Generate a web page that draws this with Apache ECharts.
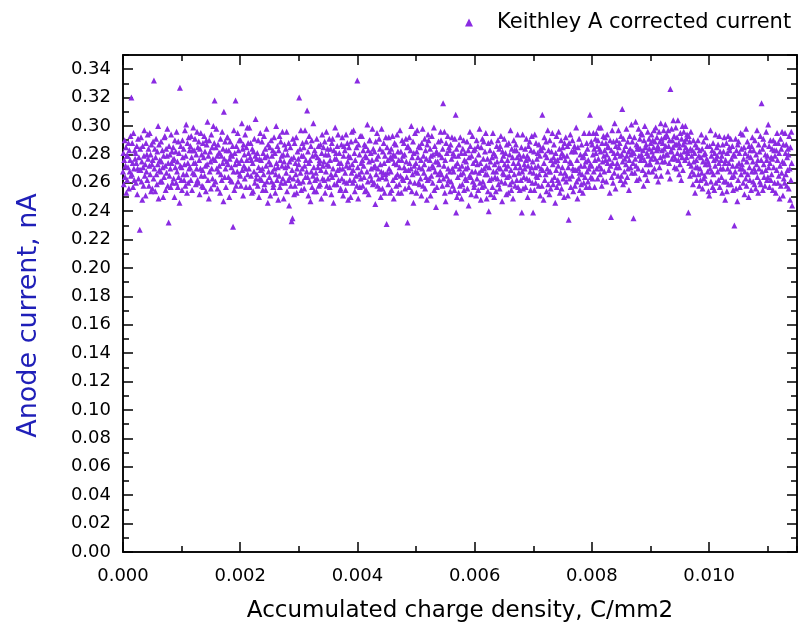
<!DOCTYPE html>
<html>
<head>
<meta charset="utf-8">
<title>Anode current vs accumulated charge</title>
<script src="https://cdn.jsdelivr.net/npm/echarts@6/dist/echarts.min.js"></script>
<style>
  html, body { margin: 0; padding: 0; background: #fff; }
  #chart { width: 800px; height: 633px; }
</style>
</head>
<body>
<div id="chart"></div>
<script>
// Keithley A corrected anode current (nA), in consecutive blocks of 160 samples
const current0 = [
  0.268,0.281,0.259,0.276,0.290,0.264,0.272,0.285,0.253,0.279,
  0.262,0.279,0.271,0.288,0.256,0.283,0.268,0.276,0.293,0.265,
  0.320,0.266,0.288,0.274,0.257,0.295,0.270,0.262,0.283,0.277,
  0.281,0.260,0.274,0.286,0.252,0.270,0.291,0.263,0.278,0.269,
  0.227,0.284,0.269,0.292,0.261,0.275,0.248,0.286,0.271,0.258,
  0.279,0.297,0.265,0.273,0.251,0.288,0.268,0.280,0.262,0.294,
  0.277,0.284,0.258,0.272,0.295,0.266,0.280,0.254,0.287,0.273,
  0.256,0.276,0.289,0.263,0.332,0.270,0.284,0.254,0.278,0.291,
  0.266,0.259,0.282,0.273,0.300,0.249,0.287,0.269,0.276,0.261,
  0.268,0.289,0.275,0.261,0.283,0.271,0.250,0.279,0.264,0.292,
  0.293,0.272,0.255,0.284,0.267,0.279,0.298,0.258,0.274,0.232,
  0.286,0.265,0.280,0.270,0.257,0.294,0.274,0.282,0.260,0.276,
  0.285,0.263,0.277,0.250,0.290,0.271,0.282,0.260,0.296,0.268,
  0.275,0.257,0.289,0.264,0.281,0.246,0.327,0.272,0.286,0.262,
  0.271,0.255,0.290,0.278,0.266,0.284,0.262,0.273,0.297,0.258,
  0.279,0.301,0.266,0.253,0.288,0.274,0.260,0.292,0.270,0.283
];
const current1 = [
  0.271,0.286,0.262,0.293,0.278,0.255,0.283,0.267,0.299,0.274,
  0.283,0.266,0.291,0.274,0.259,0.280,0.270,0.296,0.262,0.285,
  0.260,0.289,0.276,0.252,0.284,0.270,0.295,0.265,0.280,0.258,
  0.269,0.288,0.257,0.278,0.293,0.265,0.282,0.272,0.254,0.290,
  0.287,0.273,0.303,0.262,0.279,0.249,0.290,0.268,0.282,0.275,
  0.256,0.294,0.270,0.285,0.263,0.277,0.300,0.259,0.288,0.318,
  0.276,0.261,0.285,0.298,0.270,0.279,0.256,0.287,0.268,0.281,
  0.272,0.281,0.253,0.291,0.266,0.279,0.262,0.296,0.274,0.284,
  0.247,0.310,0.277,0.264,0.289,0.270,0.257,0.283,0.275,0.292,
  0.292,0.273,0.264,0.283,0.250,0.277,0.289,0.262,0.280,0.271,
  0.261,0.279,0.286,0.229,0.268,0.297,0.255,0.281,0.273,0.318,
  0.258,0.286,0.276,0.268,0.295,0.261,0.283,0.274,0.290,0.266,
  0.265,0.290,0.258,0.276,0.302,0.269,0.284,0.251,0.287,0.272,
  0.280,0.263,0.294,0.270,0.257,0.285,0.276,0.299,0.266,0.288,
  0.281,0.270,0.299,0.257,0.278,0.288,0.265,0.276,0.253,0.284,
  0.274,0.254,0.282,0.268,0.291,0.260,0.279,0.305,0.263,0.277
];
const current2 = [
  0.266,0.281,0.258,0.290,0.271,0.250,0.277,0.263,0.295,0.269,
  0.276,0.262,0.289,0.270,0.255,0.281,0.266,0.293,0.259,0.278,
  0.284,0.255,0.272,0.298,0.261,0.279,0.246,0.287,0.268,0.275,
  0.264,0.285,0.251,0.273,0.290,0.261,0.279,0.268,0.283,0.257,
  0.259,0.292,0.270,0.281,0.253,0.266,0.300,0.274,0.262,0.286,
  0.271,0.248,0.283,0.265,0.293,0.257,0.276,0.289,0.260,0.279,
  0.272,0.296,0.263,0.280,0.249,0.275,0.287,0.260,0.271,0.284,
  0.267,0.296,0.254,0.280,0.272,0.262,0.288,0.244,0.275,0.264,
  0.285,0.258,0.277,0.233,0.269,0.235,0.291,0.263,0.278,0.252,
  0.288,0.258,0.274,0.266,0.292,0.253,0.270,0.282,0.262,0.277,
  0.273,0.320,0.260,0.284,0.267,0.297,0.255,0.279,0.270,0.288,
  0.261,0.279,0.285,0.256,0.272,0.297,0.264,0.276,0.289,0.268,
  0.311,0.264,0.282,0.251,0.274,0.293,0.261,0.276,0.247,0.286,
  0.268,0.290,0.257,0.279,0.265,0.302,0.271,0.254,0.283,0.262,
  0.280,0.267,0.254,0.291,0.263,0.278,0.271,0.286,0.258,0.274,
  0.276,0.259,0.287,0.269,0.249,0.281,0.294,0.263,0.272,0.285
];
const current3 = [
  0.275,0.262,0.289,0.253,0.280,0.268,0.296,0.258,0.273,0.284,
  0.263,0.280,0.272,0.291,0.257,0.276,0.284,0.266,0.252,0.288,
  0.264,0.291,0.270,0.246,0.283,0.259,0.277,0.299,0.266,0.281,
  0.277,0.259,0.286,0.269,0.294,0.262,0.274,0.281,0.270,0.255,
  0.256,0.274,0.287,0.263,0.292,0.270,0.251,0.279,0.286,0.261,
  0.283,0.267,0.255,0.294,0.272,0.260,0.288,0.275,0.248,0.279,
  0.285,0.271,0.262,0.278,0.250,0.289,0.267,0.296,0.273,0.260,
  0.269,0.297,0.262,0.281,0.254,0.276,0.290,0.265,0.285,0.258,
  0.332,0.271,0.249,0.287,0.266,0.280,0.257,0.293,0.263,0.274,
  0.268,0.293,0.276,0.258,0.283,0.272,0.264,0.287,0.254,0.279,
  0.286,0.255,0.278,0.268,0.301,0.261,0.283,0.252,0.275,0.290,
  0.290,0.265,0.281,0.270,0.262,0.276,0.298,0.259,0.284,0.271,
  0.260,0.282,0.272,0.245,0.289,0.266,0.277,0.295,0.258,0.270,
  0.279,0.263,0.291,0.256,0.284,0.273,0.250,0.268,0.298,0.264,
  0.256,0.282,0.267,0.288,0.274,0.253,0.279,0.266,0.292,0.263,
  0.231,0.285,0.267,0.276,0.259,0.292,0.270,0.282,0.253,0.278
];
const current4 = [
  0.268,0.284,0.255,0.277,0.293,0.262,0.280,0.249,0.274,0.288,
  0.279,0.264,0.287,0.258,0.273,0.294,0.266,0.282,0.253,0.276,
  0.259,0.271,0.297,0.265,0.282,0.253,0.276,0.290,0.263,0.279,
  0.262,0.288,0.271,0.280,0.256,0.269,0.291,0.275,0.264,0.285,
  0.232,0.286,0.269,0.257,0.292,0.274,0.261,0.283,0.270,0.300,
  0.254,0.278,0.266,0.289,0.246,0.281,0.272,0.260,0.295,0.268,
  0.274,0.253,0.282,0.297,0.267,0.278,0.260,0.286,0.271,0.259,
  0.285,0.263,0.276,0.251,0.288,0.270,0.298,0.258,0.279,0.267,
  0.273,0.291,0.256,0.283,0.264,0.277,0.248,0.287,0.262,0.294,
  0.290,0.270,0.263,0.276,0.284,0.251,0.279,0.265,0.293,0.272,
  0.260,0.280,0.271,0.299,0.255,0.286,0.268,0.275,0.243,0.282,
  0.257,0.281,0.275,0.266,0.289,0.273,0.262,0.280,0.268,0.296,
  0.290,0.266,0.278,0.258,0.284,0.316,0.263,0.272,0.296,0.253,
  0.276,0.247,0.288,0.265,0.281,0.259,0.293,0.270,0.262,0.285,
  0.283,0.268,0.254,0.287,0.261,0.277,0.292,0.270,0.258,0.281,
  0.268,0.279,0.255,0.291,0.272,0.308,0.239,0.284,0.250,0.274
];
const current5 = [
  0.264,0.279,0.253,0.287,0.270,0.258,0.292,0.266,0.281,0.249,
  0.272,0.259,0.284,0.267,0.290,0.255,0.276,0.281,0.263,0.270,
  0.275,0.262,0.289,0.256,0.271,0.283,0.244,0.278,0.265,0.296,
  0.286,0.264,0.252,0.279,0.268,0.293,0.261,0.274,0.283,0.257,
  0.259,0.284,0.268,0.276,0.251,0.290,0.263,0.273,0.286,0.255,
  0.280,0.267,0.298,0.260,0.274,0.248,0.285,0.269,0.257,0.291,
  0.261,0.277,0.289,0.270,0.258,0.282,0.266,0.295,0.272,0.249,
  0.266,0.277,0.254,0.288,0.240,0.271,0.262,0.283,0.275,0.252,
  0.289,0.263,0.278,0.257,0.295,0.268,0.281,0.250,0.273,0.264,
  0.279,0.254,0.268,0.286,0.275,0.263,0.290,0.259,0.271,0.284,
  0.256,0.286,0.270,0.293,0.261,0.276,0.247,0.282,0.267,0.279,
  0.266,0.291,0.273,0.260,0.281,0.270,0.252,0.287,0.264,0.276,
  0.272,0.253,0.288,0.265,0.280,0.259,0.297,0.269,0.255,0.284,
  0.261,0.278,0.249,0.274,0.290,0.266,0.283,0.258,0.271,0.287,
  0.283,0.262,0.278,0.294,0.257,0.274,0.267,0.280,0.255,0.271,
  0.277,0.262,0.285,0.239,0.268,0.294,0.256,0.279,0.264,0.273
];
const current6 = [
  0.270,0.284,0.257,0.276,0.291,0.263,0.279,0.250,0.272,0.286,
  0.277,0.262,0.289,0.268,0.255,0.283,0.271,0.293,0.260,0.275,
  0.239,0.267,0.282,0.255,0.294,0.271,0.260,0.288,0.265,0.277,
  0.264,0.281,0.272,0.258,0.287,0.266,0.279,0.251,0.284,0.270,
  0.283,0.258,0.308,0.269,0.285,0.248,0.274,0.292,0.262,0.280,
  0.266,0.289,0.254,0.278,0.270,0.297,0.259,0.283,0.268,0.252,
  0.290,0.268,0.256,0.276,0.282,0.262,0.295,0.273,0.259,0.278,
  0.287,0.264,0.275,0.246,0.281,0.269,0.293,0.257,0.276,0.262,
  0.272,0.296,0.260,0.284,0.253,0.278,0.267,0.290,0.256,0.281,
  0.271,0.285,0.263,0.279,0.250,0.288,0.267,0.276,0.292,0.261,
  0.265,0.279,0.286,0.251,0.271,0.234,0.288,0.263,0.275,0.294,
  0.257,0.274,0.282,0.265,0.290,0.270,0.254,0.283,0.269,0.286,
  0.258,0.282,0.269,0.299,0.261,0.276,0.249,0.285,0.270,0.263,
  0.291,0.267,0.255,0.280,0.272,0.259,0.287,0.266,0.278,0.253,
  0.279,0.260,0.295,0.272,0.264,0.281,0.275,0.257,0.288,0.268,
  0.284,0.261,0.276,0.270,0.295,0.257,0.308,0.273,0.264,0.289
];
const current7 = [
  0.272,0.287,0.263,0.280,0.295,0.268,0.284,0.257,0.276,0.291,
  0.281,0.295,0.270,0.286,0.263,0.290,0.277,0.299,0.272,0.284,
  0.266,0.282,0.299,0.270,0.258,0.288,0.275,0.262,0.293,0.279,
  0.268,0.283,0.292,0.276,0.288,0.261,0.280,0.294,0.274,0.286,
  0.285,0.269,0.277,0.253,0.290,0.272,0.236,0.283,0.264,0.297,
  0.274,0.260,0.289,0.281,0.267,0.302,0.278,0.256,0.286,0.271,
  0.290,0.274,0.281,0.265,0.297,0.285,0.271,0.288,0.279,0.262,
  0.293,0.265,0.280,0.312,0.275,0.259,0.291,0.283,0.268,0.277,
  0.261,0.286,0.273,0.298,0.279,0.264,0.289,0.270,0.282,0.255,
  0.276,0.293,0.284,0.271,0.280,0.301,0.267,0.289,0.282,0.274,
  0.235,0.281,0.292,0.267,0.277,0.303,0.272,0.287,0.262,0.284,
  0.286,0.270,0.298,0.279,0.263,0.291,0.284,0.276,0.295,0.280,
  0.278,0.294,0.269,0.283,0.258,0.290,0.276,0.300,0.266,0.285,
  0.287,0.273,0.281,0.262,0.296,0.279,0.268,0.291,0.284,0.274,
  0.273,0.288,0.277,0.294,0.282,0.268,0.290,0.279,0.285,0.297,
  0.270,0.289,0.277,0.299,0.265,0.283,0.292,0.275,0.286,0.261
];
const current8 = [
  0.284,0.296,0.271,0.289,0.278,0.302,0.265,0.291,0.283,0.275,
  0.288,0.279,0.297,0.284,0.292,0.275,0.301,0.286,0.280,0.294,
  0.293,0.280,0.268,0.297,0.286,0.274,0.290,0.263,0.326,0.282,
  0.283,0.298,0.277,0.290,0.285,0.304,0.279,0.293,0.271,0.287,
  0.277,0.299,0.287,0.270,0.292,0.281,0.304,0.276,0.288,0.266,
  0.285,0.273,0.295,0.280,0.262,0.291,0.278,0.300,0.269,0.287,
  0.296,0.282,0.289,0.276,0.300,0.285,0.291,0.278,0.294,0.283,
  0.281,0.239,0.293,0.274,0.289,0.265,0.284,0.296,0.272,0.279,
  0.268,0.283,0.259,0.290,0.275,0.266,0.281,0.253,0.287,0.271,
  0.276,0.262,0.285,0.271,0.290,0.266,0.279,0.258,0.283,0.270,
  0.262,0.278,0.294,0.267,0.284,0.256,0.275,0.289,0.263,0.280,
  0.265,0.281,0.273,0.292,0.260,0.277,0.286,0.268,0.275,0.254,
  0.273,0.251,0.286,0.270,0.297,0.261,0.279,0.268,0.283,0.257,
  0.288,0.266,0.276,0.255,0.281,0.272,0.294,0.260,0.277,0.285,
  0.279,0.268,0.287,0.262,0.274,0.293,0.257,0.282,0.270,0.276,
  0.264,0.279,0.253,0.287,0.270,0.282,0.261,0.292,0.274,0.248
];
const current9 = [
  0.276,0.261,0.288,0.254,0.281,0.270,0.293,0.259,0.274,0.285,
  0.283,0.268,0.291,0.259,0.277,0.264,0.286,0.272,0.255,0.280,
  0.265,0.230,0.279,0.268,0.291,0.256,0.283,0.272,0.247,0.287,
  0.262,0.289,0.274,0.281,0.257,0.270,0.295,0.266,0.284,0.273,
  0.270,0.294,0.260,0.277,0.285,0.252,0.268,0.281,0.263,0.298,
  0.258,0.275,0.289,0.266,0.279,0.250,0.286,0.271,0.262,0.283,
  0.278,0.255,0.286,0.268,0.292,0.275,0.261,0.283,0.270,0.259,
  0.290,0.268,0.256,0.280,0.273,0.297,0.264,0.276,0.253,0.287,
  0.270,0.282,0.261,0.293,0.259,0.276,0.316,0.268,0.284,0.255,
  0.291,0.273,0.264,0.287,0.258,0.280,0.269,0.296,0.276,0.262,
  0.279,0.264,0.301,0.271,0.286,0.257,0.274,0.290,0.262,0.278,
  0.266,0.284,0.277,0.255,0.290,0.271,0.283,0.260,0.279,0.288,
  0.253,0.283,0.269,0.295,0.276,0.260,0.288,0.265,0.281,0.249,
  0.272,0.291,0.258,0.284,0.267,0.296,0.275,0.251,0.287,0.263,
  0.274,0.260,0.295,0.281,0.266,0.287,0.258,0.278,0.269,0.284,
  0.280,0.256,0.293,0.270,0.248,0.285,0.262,0.296,0.274,0.244
];

// Samples are taken at equal increments of accumulated charge density (C/mm2)
const chargePerSample = 0.00000714;

const seriesName = 'Keithley A corrected current';
const xAxisTitle = 'Accumulated charge density, C/mm2';
const yAxisTitle = 'Anode current, nA';

const currentBlocks = [current0, current1, current2, current3, current4,
                       current5, current6, current7, current8, current9];
const points = [];
currentBlocks.forEach(function (block) {
  block.forEach(function (v) {
    points.push([points.length * chargePerSample, v]);
  });
});

const FONT = 'DejaVu Sans';
const LINE = { color: '#000', width: 1.5 };

function xAxisDef(position, interval, tickLen, withLabels) {
  return {
    type: 'value', position: position, min: 0, max: 0.0115, interval: interval,
    axisLine: { show: true, onZero: false, lineStyle: LINE },
    axisTick: { show: true, inside: true, length: tickLen, lineStyle: LINE },
    axisLabel: withLabels ? {
      show: true, showMaxLabel: false, margin: 15, color: '#000',
      fontFamily: FONT, fontSize: 18,
      formatter: function (v) { return v.toFixed(3); }
    } : { show: false },
    splitLine: { show: false }
  };
}
function yAxisDef(position, interval, tickLen, withLabels) {
  return {
    type: 'value', position: position, min: 0, max: 0.35, interval: interval,
    axisLine: { show: true, onZero: false, lineStyle: LINE },
    axisTick: { show: true, inside: true, length: tickLen, lineStyle: LINE },
    axisLabel: withLabels ? {
      show: true, showMaxLabel: false, margin: 12, color: '#000',
      fontFamily: FONT, fontSize: 18,
      formatter: function (v) { return v.toFixed(2); }
    } : { show: false },
    splitLine: { show: false }
  };
}

const xMain = xAxisDef('bottom', 0.002, 10, true);
xMain.name = xAxisTitle;
xMain.nameLocation = 'middle';
xMain.nameGap = 48;
xMain.nameTextStyle = { fontFamily: FONT, fontSize: 23, color: '#000' };

const yMain = yAxisDef('left', 0.02, 10, true);
yMain.name = yAxisTitle;
yMain.nameLocation = 'middle';
yMain.nameGap = 81;
yMain.nameTextStyle = { fontFamily: FONT, fontSize: 27, color: '#1f1fb8', padding: [0, 24, 0, 0] };

const chart = echarts.init(document.getElementById('chart'), null, { renderer: 'canvas' });
chart.setOption({
  animation: false,
  backgroundColor: '#fff',
  grid: { left: 123, right: 3, top: 55, bottom: 81 },
  legend: {
    left: 460, top: 7,
    itemWidth: 8, itemHeight: 8,
    textStyle: { fontFamily: FONT, fontSize: 21, color: '#000', padding: [0, 0, 0, 19] },
    data: [seriesName]
  },
  xAxis: [
    xMain,
    xAxisDef('bottom', 0.001, 6, false),
    xAxisDef('top', 0.002, 10, false),
    xAxisDef('top', 0.001, 6, false)
  ],
  yAxis: [
    yMain,
    yAxisDef('left', 0.01, 6, false),
    yAxisDef('right', 0.02, 10, false),
    yAxisDef('right', 0.01, 6, false)
  ],
  series: [{
    name: seriesName,
    type: 'scatter',
    xAxisIndex: 0, yAxisIndex: 0,
    symbol: 'triangle',
    symbolSize: 6,
    itemStyle: { color: '#8a2be2', opacity: 1 },
    data: points
  }]
});
</script>
</body>
</html>
